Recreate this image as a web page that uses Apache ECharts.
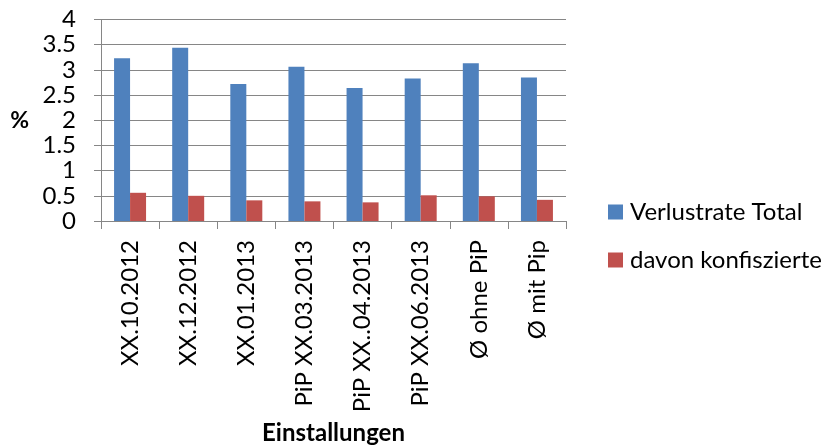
<!DOCTYPE html>
<html>
<head>
<meta charset="utf-8">
<script src="https://cdn.jsdelivr.net/npm/echarts@6/dist/echarts.min.js"></script>
<style>
  html, body { margin: 0; padding: 0; background: #ffffff; }
  #chart { width: 831px; height: 446px; }
</style>
</head>
<body>
<div id="chart"></div>
<script>
// Loss rates per installation period (percent)
const categories = [
  'XX.10.2012', 'XX.12.2012', 'XX.01.2013', 'PiP XX.03.2013',
  'PiP XX..04.2013', 'PiP XX.06.2013', 'Ø ohne PiP', 'Ø mit Pip'
];
const verlustrateTotal = [3.23, 3.44, 2.72, 3.06, 2.64, 2.83, 3.13, 2.85];
const davonKonfisziert = [0.56, 0.50, 0.41, 0.39, 0.37, 0.51, 0.49, 0.42];
const yTicks = [0, 0.5, 1, 1.5, 2, 2.5, 3, 3.5, 4];

const FONT = 'Lato, "Open Sans", sans-serif';
const GRID_GREY = '#868686';

const chart = echarts.init(document.getElementById('chart'), null, { renderer: 'canvas' });

chart.setOption({
  animation: false,
  backgroundColor: '#ffffff',
  textStyle: { fontFamily: FONT },
  grid: { left: 101, right: 265, top: 19.5, bottom: 224.3, containLabel: false },
  legend: {
    orient: 'vertical',
    left: 608,
    top: 200,
    padding: 0,
    itemWidth: 15,
    itemHeight: 15,
    itemGap: 24,
    icon: 'rect',
    textStyle: { fontFamily: FONT, fontSize: 24, lineHeight: 24, color: '#000000', padding: [0, 0, 0, 2] },
    data: ['Verlustrate Total', 'davon konfiszierte']
  },
  xAxis: {
    type: 'category',
    data: categories,
    name: 'Einstallungen',
    nameLocation: 'middle',
    nameGap: 200,
    nameTextStyle: { fontFamily: FONT, fontSize: 24, fontWeight: 'bold', color: '#000000' },
    axisLine: { lineStyle: { color: GRID_GREY, width: 1 } },
    axisTick: { show: true, length: 8, lineStyle: { color: GRID_GREY }, alignWithLabel: false },
    axisLabel: {
      rotate: 90,
      interval: 0,
      margin: 19,
      fontFamily: FONT,
      fontSize: 24,
      color: '#000000'
    },
    splitLine: { show: false }
  },
  yAxis: {
    type: 'value',
    min: 0,
    max: 4,
    interval: 0.5,
    name: '%',
    nameLocation: 'middle',
    nameRotate: 0,
    nameGap: 72,
    nameTextStyle: { fontFamily: FONT, fontSize: 23, fontWeight: 'bold', color: '#000000' },
    axisLine: { show: true, lineStyle: { color: GRID_GREY, width: 1 } },
    axisTick: { show: true, length: 7, lineStyle: { color: GRID_GREY } },
    axisLabel: {
      margin: 25,
      fontFamily: FONT,
      fontSize: 24,
      color: '#000000',
      formatter: v => (yTicks.includes(v) ? String(v) : '')
    },
    splitLine: { show: true, lineStyle: { color: GRID_GREY, width: 1 } }
  },
  series: [
    {
      name: 'Verlustrate Total',
      type: 'bar',
      data: verlustrateTotal,
      barWidth: 16,
      barGap: '0%',
      itemStyle: { color: '#4F81BD' }
    },
    {
      name: 'davon konfiszierte',
      type: 'bar',
      data: davonKonfisziert,
      barWidth: 16,
      barGap: '0%',
      itemStyle: { color: '#C0504D' }
    }
  ]
});
</script>
</body>
</html>
